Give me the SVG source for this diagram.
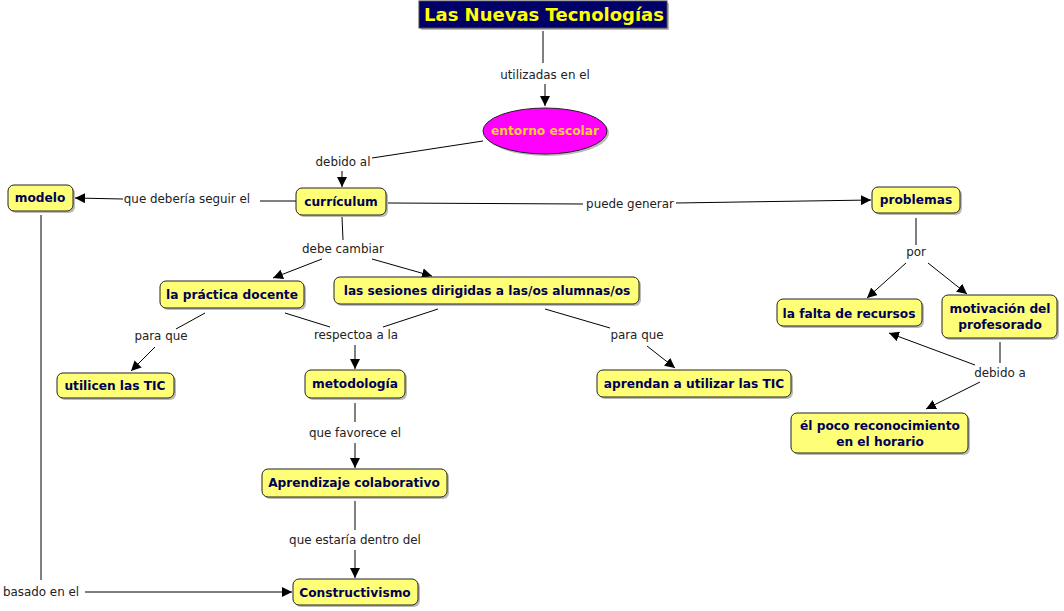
<svg xmlns="http://www.w3.org/2000/svg" width="1064" height="611" viewBox="0 0 1064 611">
<style>
.n rect{fill:#FFFF77;stroke:#222;stroke-width:1}
.n rect.sh{fill:#bbbbbb;stroke:none}
.t{font-family:"DejaVu Sans",Verdana,sans-serif;font-weight:bold;font-size:12.2px;fill:#000055;text-anchor:middle}
.l{font-family:"DejaVu Sans",Verdana,sans-serif;font-size:11.9px;fill:#222;text-anchor:middle}
#connectors line{stroke:#000;stroke-width:1}
#connectors line.a{marker-end:url(#ah)}
</style>
<defs>
<marker id="ah" viewBox="0 0 10 10" refX="10" refY="5" markerWidth="10" markerHeight="10" markerUnits="userSpaceOnUse" orient="auto">
<path d="M0,0 L10,5 L0,10 z" fill="#000"/>
</marker>
</defs>
<rect width="1064" height="611" fill="#fff"/>

<g id="connectors">
<line x1="543" y1="31" x2="543" y2="63"/>
<line class="a" x1="545" y1="84" x2="545" y2="106"/>
<line x1="483" y1="141" x2="372" y2="158"/>
<line class="a" x1="342" y1="171" x2="342" y2="187"/>
<line x1="296" y1="201" x2="260" y2="201"/>
<line class="a" x1="123" y1="199" x2="75" y2="198"/>
<line x1="388" y1="203" x2="583" y2="204"/>
<line class="a" x1="676" y1="203" x2="871" y2="200"/>
<line x1="342" y1="217" x2="343" y2="240"/>
<line class="a" x1="322" y1="259" x2="273" y2="278"/>
<line class="a" x1="372" y1="259" x2="432" y2="276"/>
<line x1="205" y1="313" x2="176" y2="329"/>
<line class="a" x1="155" y1="347" x2="131" y2="371"/>
<line x1="285" y1="313" x2="330" y2="327"/>
<line x1="438" y1="309" x2="383" y2="327"/>
<line class="a" x1="355" y1="345" x2="355" y2="369"/>
<line x1="545" y1="309" x2="610" y2="328"/>
<line class="a" x1="647" y1="346" x2="675" y2="368"/>
<line x1="355" y1="403" x2="355" y2="422"/>
<line class="a" x1="355" y1="443" x2="355" y2="468"/>
<line x1="355" y1="501" x2="355" y2="530"/>
<line class="a" x1="355" y1="550" x2="355" y2="578"/>
<line x1="41" y1="215" x2="41" y2="580"/>
<line class="a" x1="85" y1="592" x2="292" y2="592"/>
<line x1="916" y1="218" x2="916" y2="245"/>
<line class="a" x1="906" y1="263" x2="867" y2="298"/>
<line class="a" x1="928" y1="263" x2="967" y2="294"/>
<line x1="1000" y1="342" x2="1000" y2="363"/>
<line class="a" x1="975" y1="365" x2="889" y2="333"/>
<line class="a" x1="980" y1="382" x2="926" y2="409"/>
</g>

<g id="labels">
<text class="l" x="545" y="79">utilizadas en el</text>
<text class="l" x="343" y="166">debido al</text>
<text class="l" x="187" y="203">que debería seguir el</text>
<text class="l" x="630" y="208">puede generar</text>
<text class="l" x="343" y="253">debe cambiar</text>
<text class="l" x="161" y="340">para que</text>
<text class="l" x="356" y="339">respectoa a la</text>
<text class="l" x="637" y="339">para que</text>
<text class="l" x="355" y="437">que favorece el</text>
<text class="l" x="355" y="544">que estaría dentro del</text>
<text class="l" x="41" y="596">basado en el</text>
<text class="l" x="916" y="256">por</text>
<text class="l" x="1000" y="377">debido a</text>
</g>

<g id="n-title">
<rect x="421" y="3" width="248" height="27" fill="#bbb"/>
<rect x="419" y="1" width="248" height="27" fill="#000066" stroke="#444"/>
<text x="544" y="21" font-family="'DejaVu Sans',Verdana,sans-serif" font-weight="bold" font-size="18" fill="#FFFF00" text-anchor="middle">Las Nuevas Tecnologías</text>
</g>
<g id="n-entorno">
<ellipse cx="547" cy="133" rx="62" ry="23" fill="#bbb"/>
<ellipse cx="545" cy="131" rx="62" ry="23" fill="#FF00FF" stroke="#222"/>
<text x="545" y="135" font-family="'DejaVu Sans',Verdana,sans-serif" font-weight="bold" font-size="12.2" fill="#FFCC33" text-anchor="middle">entorno escolar</text>
</g>
<g id="n-curriculum" class="n">
<rect class="sh" x="298" y="190" width="90" height="27" rx="6"/>
<rect x="296" y="188" width="90" height="27" rx="6"/>
<text class="t" x="341" y="206">currículum</text>
</g>
<g id="n-modelo" class="n">
<rect class="sh" x="10" y="187" width="65" height="26" rx="6"/>
<rect x="8" y="185" width="65" height="26" rx="6"/>
<text class="t" x="40" y="202">modelo</text>
</g>
<g id="n-problemas" class="n">
<rect class="sh" x="874" y="189" width="88" height="26" rx="6"/>
<rect x="872" y="187" width="88" height="26" rx="6"/>
<text class="t" x="916" y="204">problemas</text>
</g>
<g id="n-practica" class="n">
<rect class="sh" x="162" y="283" width="144" height="27" rx="6"/>
<rect x="160" y="281" width="144" height="27" rx="6"/>
<text class="t" x="232" y="299">la práctica docente</text>
</g>
<g id="n-sesiones" class="n">
<rect class="sh" x="336" y="279" width="305" height="27" rx="6"/>
<rect x="334" y="277" width="305" height="27" rx="6"/>
<text class="t" x="487" y="295">las sesiones dirigidas a las/os alumnas/os</text>
</g>
<g id="n-utilicen" class="n">
<rect class="sh" x="59" y="375" width="117" height="25" rx="6"/>
<rect x="57" y="373" width="117" height="25" rx="6"/>
<text class="t" x="115" y="390">utilicen las TIC</text>
</g>
<g id="n-metodologia" class="n">
<rect class="sh" x="307" y="372" width="100" height="28" rx="6"/>
<rect x="305" y="370" width="100" height="28" rx="6"/>
<text class="t" x="355" y="388">metodología</text>
</g>
<g id="n-aprendan" class="n">
<rect class="sh" x="599" y="372" width="194" height="27" rx="6"/>
<rect x="597" y="370" width="194" height="27" rx="6"/>
<text class="t" x="694" y="388">aprendan a utilizar las TIC</text>
</g>
<g id="n-aprendizaje" class="n">
<rect class="sh" x="264" y="471" width="185" height="28" rx="6"/>
<rect x="262" y="469" width="185" height="28" rx="6"/>
<text class="t" x="354" y="487">Aprendizaje colaborativo</text>
</g>
<g id="n-constructivismo" class="n">
<rect class="sh" x="295" y="581" width="125" height="26" rx="6"/>
<rect x="293" y="579" width="125" height="26" rx="6"/>
<text class="t" x="355" y="597">Constructivismo</text>
</g>
<g id="n-falta" class="n">
<rect class="sh" x="779" y="301" width="145" height="27" rx="6"/>
<rect x="777" y="299" width="145" height="27" rx="6"/>
<text class="t" x="849" y="318">la falta de recursos</text>
</g>
<g id="n-motivacion" class="n">
<rect class="sh" x="944" y="297" width="115" height="43" rx="6"/>
<rect x="942" y="295" width="115" height="43" rx="6"/>
<text class="t" x="1000" y="313">motivación del</text>
<text class="t" x="1000" y="329">profesorado</text>
</g>
<g id="n-reconocimiento" class="n">
<rect class="sh" x="793" y="415" width="177" height="40" rx="6"/>
<rect x="791" y="413" width="177" height="40" rx="6"/>
<text class="t" x="880" y="430">él poco reconocimiento</text>
<text class="t" x="880" y="446">en el horario</text>
</g>
</svg>
